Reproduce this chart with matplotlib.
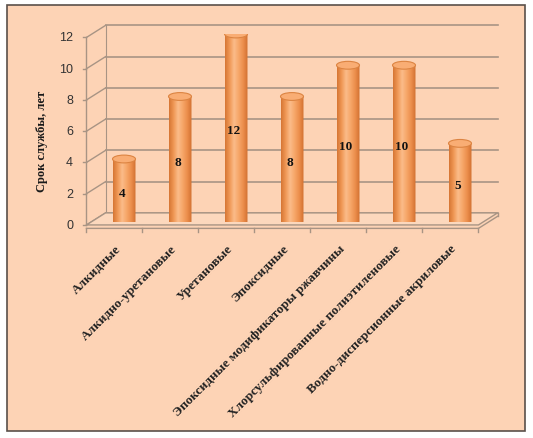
import matplotlib.pyplot as plt
import numpy as np
from matplotlib.patches import Rectangle, Ellipse, Polygon, PathPatch
from matplotlib.path import Path

# Данные
categories = ['Алкидные', 'Алкидно-уретановые', 'Уретановые', 'Эпоксидные',
              'Эпоксидные модификаторы ржавчины', 'Хлорсульфированные полиэтиленовые',
              'Водно-дисперсионные акриловые']
values = [4, 8, 12, 8, 10, 10, 5]
yticks = [0, 2, 4, 6, 8, 10, 12]
ylabel = 'Срок службы, лет'

bg = '#fdd3b5'
grid_col = '#a89484'
serif = ['Liberation Serif', 'DejaVu Serif']

fig = plt.figure(figsize=(5.33, 4.39), dpi=100)
fig.patch.set_facecolor('white')

# рамка с заливкой
frame = Rectangle((7 / 533, 7 / 439), 518 / 533, 426 / 439, transform=fig.transFigure,
                  facecolor=bg, edgecolor='#5a504a', linewidth=1.2, zorder=-5)
fig.patches.append(frame)

ax = fig.add_axes([96 / 533, (439 - 222.5) / 439, 392 / 533, 187.5 / 439])
ax.set_xlim(-0.5, len(values) - 0.5)
ax.set_ylim(0, 12)
ax.axis('off')

# смещение глубины (псевдо-3D): задняя стенка и передний край
bx, by = 0.17, 0.55
fx, fy = 0.17, 0.22
n = len(values)
x0, x1 = -0.5, n - 0.5

# задняя стенка и левая стенка
for v in yticks:
    ax.plot([x0 + bx, x1 + bx], [v + by, v + by], color=grid_col, lw=1.2, clip_on=False, zorder=1)
    ax.plot([x0 - fx, x0 + bx], [v - fy, v + by], color=grid_col, lw=1.0, clip_on=False, zorder=1)
# левая ось спереди
ax.plot([x0 - fx, x0 - fx], [-fy, 12 - fy], color=grid_col, lw=1.0, clip_on=False, zorder=1)
ax.plot([x0 + bx, x0 + bx], [by, 12 + by], color=grid_col, lw=0.8, clip_on=False, zorder=1)

# пол
floor = Polygon([(x0 - fx, -fy), (x1 - fx, -fy), (x1 + bx, by), (x0 + bx, by)],
                closed=True, facecolor='#fcd8bd', edgecolor=grid_col, lw=1.0, clip_on=False, zorder=1)
ax.add_patch(floor)
th = 0.22
ax.plot([x0 - fx, x1 - fx, x1 + bx], [-fy - th, -fy - th, by - th], color=grid_col, lw=1.0,
        clip_on=False, zorder=1)
ax.plot([x1 + bx, x1 + bx], [by, by - th], color=grid_col, lw=1.0, clip_on=False, zorder=1)

# подписи оси Y и засечки
for v in yticks:
    ax.plot([x0 - fx - 0.07, x0 - fx], [v - fy, v - fy], color=grid_col, lw=1.0, clip_on=False)
    ax.text(x0 - fx - 0.24, v - fy, str(v), ha='right', va='center', fontsize=9,
            color='#333333', family='Liberation Sans')
ax.text(x0 - 0.97, 5.2, ylabel, rotation=90, ha='center', va='center', fontsize=9,
        fontweight='bold', family=serif, color='#1a1a1a')

# засечки и подписи категорий
for i in range(n + 1):
    xb = x0 + i - fx
    ax.plot([xb, xb], [-fy - th, -fy - th - 0.25], color=grid_col, lw=1.0, clip_on=False)
for i, c in enumerate(categories):
    ax.text(i - fx, -fy - 1.1, c, rotation=45, rotation_mode='anchor', ha='right', va='top',
            fontsize=9.5, fontweight='bold', family=serif, color='#222222')

# цилиндры
w = 0.41
eh = 0.5
grad_cols = np.array([[214, 118, 52], [240, 152, 86], [251, 188, 138], [246, 166, 104],
                      [236, 142, 76], [208, 112, 48]]) / 255.0
pos = np.linspace(0, 1, len(grad_cols))
t = np.linspace(0, 1, 64)
grad = np.stack([np.interp(t, pos, grad_cols[:, k]) for k in range(3)], axis=-1)[None, :, :]
ang = np.linspace(np.pi, 2 * np.pi, 40)

for i, v in enumerate(values):
    xc = i
    verts = [(xc - w / 2, v)] + [(xc + w / 2 * np.cos(a), eh / 2 * np.sin(a)) for a in ang] \
        + [(xc + w / 2, v), (xc - w / 2, v)]
    clip = PathPatch(Path(verts, closed=True), transform=ax.transData,
                     facecolor='none', edgecolor='none')
    ax.add_patch(clip)
    im = ax.imshow(grad, extent=[xc - w / 2, xc + w / 2, -eh / 2, v], aspect='auto',
                   zorder=3, interpolation='bilinear')
    im.set_clip_path(clip)
    ax.add_patch(Ellipse((xc, v), w, eh, facecolor='#f9ad74', edgecolor='#dc8442', lw=0.8, zorder=4))
    ax.text(xc - 0.04, v / 2 - 0.17, str(v), ha='center', va='center', fontsize=9.5,
            fontweight='bold', family=serif, color='#111111', zorder=5)

ax.set_xlim(-0.5, len(values) - 0.5)
ax.set_ylim(0, 12)

fig.savefig('out.png', dpi=100, facecolor='white')
